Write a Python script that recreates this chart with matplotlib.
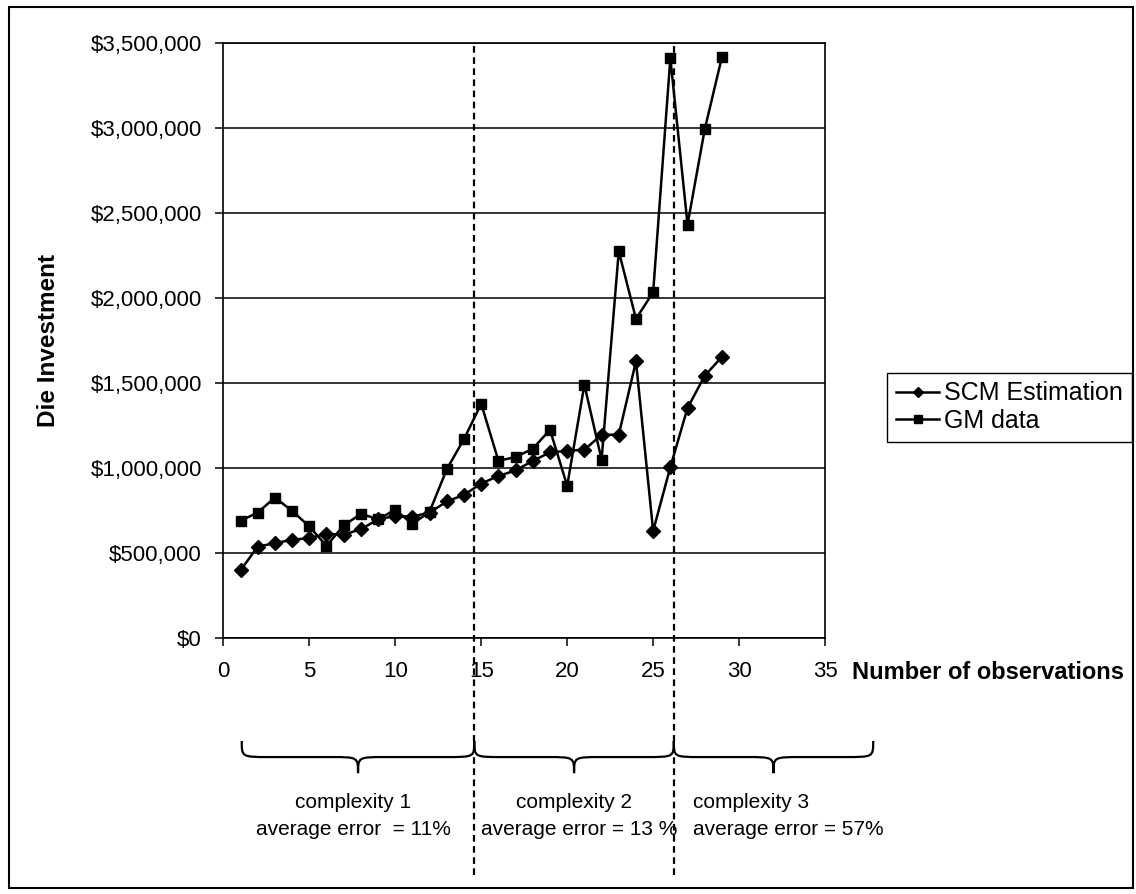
import numpy as np
import matplotlib
matplotlib.use("Agg")
import matplotlib.pyplot as plt
from matplotlib.path import Path
from matplotlib.patches import PathPatch, Rectangle
from matplotlib.ticker import FuncFormatter, MultipleLocator
from matplotlib.transforms import blended_transform_factory

plt.rcParams['font.family'] = ['Liberation Sans', 'DejaVu Sans']

# -----------------------------------------
# Data
# -----------------------------------------
observations = np.arange(1, 30)
scm_estimation = [400000, 540000, 560000, 580000, 590000, 615000, 610000, 642000,
                  700000, 720000, 716000, 740000, 805000, 844000, 910000, 955000,
                  987000, 1044000, 1093000, 1103000, 1109000, 1197000, 1197000,
                  1628000, 632000, 1007000, 1354000, 1544000, 1654000]
gm_data = [691000, 740000, 828000, 750000, 658000, 544000, 664000, 732000,
           701000, 756000, 672000, 746000, 995000, 1172000, 1379000, 1044000,
           1066000, 1115000, 1226000, 897000, 1491000, 1050000, 2275000,
           1878000, 2034000, 3410000, 2432000, 2991000, 3416000]

# complexity groups: brace edges on the x axis, and their captions
group_edges = [1.07, 14.6, 26.2, 37.8]
group_titles = ["complexity 1", "complexity 2", "complexity 3"]
group_errors = ["average error  = 11%", "average error = 13 %", "average error = 57%"]

# -----------------------------------------
# Figure
# -----------------------------------------
fig = plt.figure(figsize=(11.36, 8.94), dpi=100)
ax = fig.add_axes([0.1966, 0.2858, 0.5297, 0.6664])

ax.plot(observations, scm_estimation, color='black', lw=1.8, marker='D', ms=7,
        label='SCM Estimation', zorder=3)
ax.plot(observations, gm_data, color='black', lw=1.8, marker='s', ms=7,
        label='GM data', zorder=3)

ax.set_xlim(0, 35)
ax.set_ylim(0, 3500000)
ax.xaxis.set_major_locator(MultipleLocator(5))
ax.yaxis.set_major_locator(MultipleLocator(500000))
ax.yaxis.set_major_formatter(FuncFormatter(lambda v, p: f"${v:,.0f}"))
ax.grid(axis='y', color='black', lw=1.1)
ax.set_axisbelow(True)
for s in ax.spines.values():
    s.set_color('black')
    s.set_linewidth(1.2)
ax.tick_params(axis='both', direction='out', length=5.5, width=1.1, colors='black')
ax.tick_params(axis='y', labelsize=16, pad=10)
ax.tick_params(axis='x', labelsize=16, pad=11)

ax.set_ylabel("Die Investment", fontsize=17.5, fontweight='bold')
ax.yaxis.set_label_coords(-0.271, 0.501)
ax.set_xlabel("Number of observations", fontsize=17, fontweight='bold', ha='left', va='baseline')
ax.xaxis.set_label_coords(1.044, -0.0685)

ax.legend(loc='upper left', bbox_to_anchor=(0.7808, 0.5831), bbox_transform=fig.transFigure,
          fontsize=18, frameon=True, fancybox=False, edgecolor='black', framealpha=1,
          borderaxespad=0, borderpad=0.35, handlelength=1.75, handletextpad=0.2,
          labelspacing=0.15, markerscale=0.75)
ax.get_legend().get_frame().set_linewidth(1.0)

# -----------------------------------------
# Group separators, braces and captions
# -----------------------------------------
trans = blended_transform_factory(ax.transData, ax.transAxes)
for xb in group_edges[1:3]:
    ax.axvline(xb, ymin=-0.397, ymax=1, color='black', lw=1.6, ls=(0, (3, 2)),
               clip_on=False, zorder=4)


def draw_brace(x0, x1):
    y_end, y_bar, y_tip = -0.172, -0.199, -0.226
    r = 1.6
    xm = (x0 + x1) / 2
    verts = [(x0, y_end), (x0, y_bar), (x0, y_bar), (x0 + r, y_bar),
             (xm - r, y_bar),
             (xm, y_bar), (xm, y_bar), (xm, y_tip),
             (xm, y_bar), (xm, y_bar), (xm + r, y_bar),
             (x1 - r, y_bar),
             (x1, y_bar), (x1, y_bar), (x1, y_end)]
    codes = [Path.MOVETO, Path.CURVE4, Path.CURVE4, Path.CURVE4,
             Path.LINETO,
             Path.CURVE4, Path.CURVE4, Path.CURVE4,
             Path.CURVE4, Path.CURVE4, Path.CURVE4,
             Path.LINETO,
             Path.CURVE4, Path.CURVE4, Path.CURVE4]
    ax.add_patch(PathPatch(Path(verts, codes), fill=False, lw=1.6, color='black',
                           transform=trans, clip_on=False))


for i in range(3):
    draw_brace(group_edges[i], group_edges[i + 1])

ax.text(7.55, -0.276, group_titles[0], transform=trans, ha='center', va='center', fontsize=15)
ax.text(7.55, -0.321, group_errors[0], transform=trans, ha='center', va='center', fontsize=15)
ax.text(20.4, -0.276, group_titles[1], transform=trans, ha='center', va='center', fontsize=15)
ax.text(20.7, -0.321, group_errors[1], transform=trans, ha='center', va='center', fontsize=15)
ax.text(27.3, -0.276, group_titles[2], transform=trans, ha='left', va='center', fontsize=15)
ax.text(27.3, -0.321, group_errors[2], transform=trans, ha='left', va='center', fontsize=15)

# outer frame
fig.patches.append(Rectangle((9 / 1136, 1 - 888 / 894), 1124 / 1136, 881 / 894,
                             transform=fig.transFigure, fill=False, ec='black', lw=1.5))

fig.savefig("out.png", dpi=100, facecolor='white')
